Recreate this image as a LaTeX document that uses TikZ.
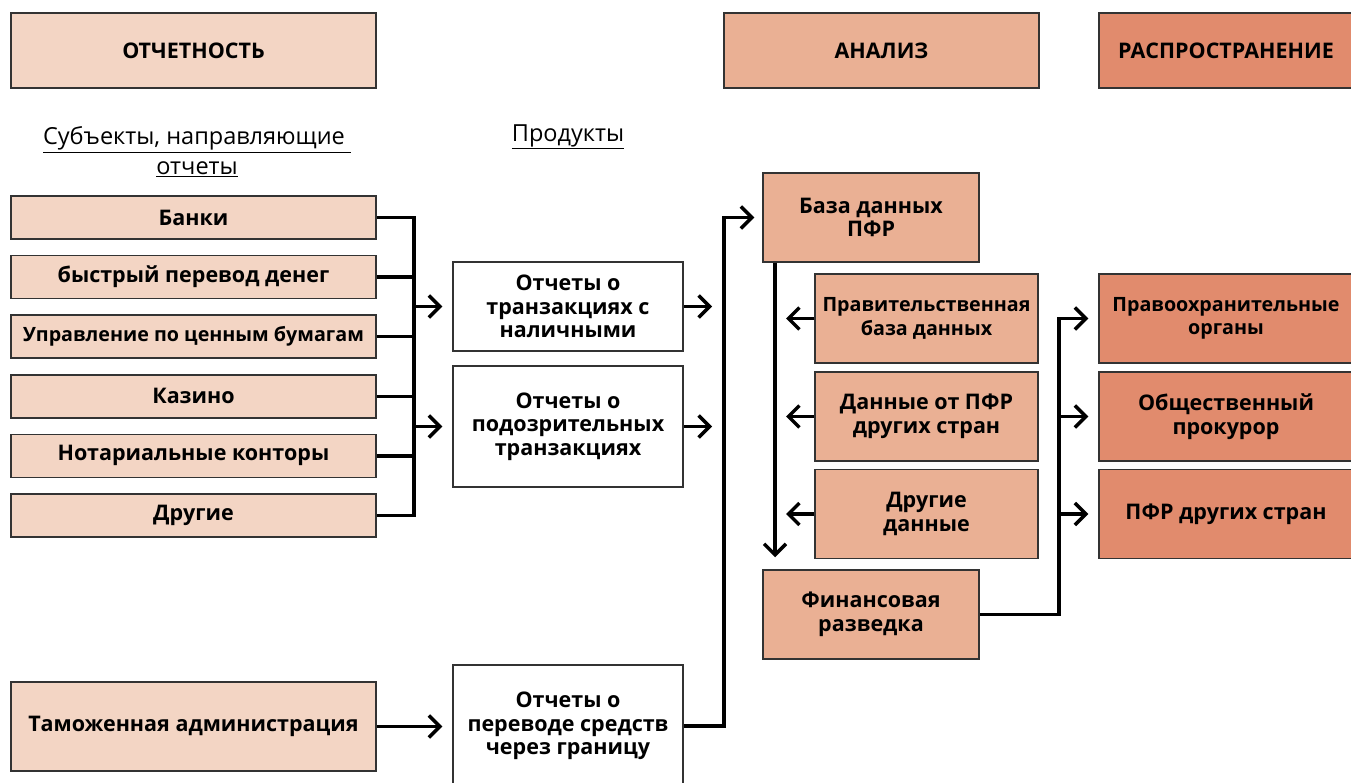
\documentclass[tikz,border=0pt]{standalone}
\usepackage{fontspec}
\setmainfont{Open Sans}
\usetikzlibrary{arrows.meta}
\definecolor{repcol}{HTML}{F3D5C4}
\definecolor{anacol}{HTML}{EAB094}
\definecolor{discol}{HTML}{E18B6D}
\newcommand{\tightfont}{\fontsize{19.7}{23.5}\selectfont}
\tikzset{
  box/.style={draw=black!80,line width=1.5pt,align=center,inner sep=1pt,
    font=\bfseries\fontsize{21.5}{23.5}\selectfont},
  hdr/.style={box,minimum height=75pt},
  src/.style={box,fill=repcol,minimum width=365pt,minimum height=43pt},
  prod/.style={box,fill=white,minimum width=230pt},
  ana/.style={box,fill=anacol,minimum height=89pt},
  dis/.style={box,fill=discol,minimum width=254pt,minimum height=89pt},
  sub/.style={align=center,font=\fontsize{23.5}{30}\selectfont},
  link/.style={line width=3.5pt},
  arr/.style={link,-{Straight Barb[length=11pt,width=22pt]}}
}
\begin{document}
\begin{tikzpicture}[x=1pt,y=-1pt]
\useasboundingbox (0,0) rectangle (1351,783);
% headers
\node[hdr,fill=repcol,minimum width=365pt] (hrep) at (193.5,50.5) {ОТЧЕТНОСТЬ};
\node[hdr,fill=anacol,minimum width=315pt] (hana) at (881.5,50.5) {АНАЛИЗ};
\node[hdr,fill=discol,minimum width=254pt] (hdis) at (1226,50.5) {РАСПРОСТРАНЕНИЕ};
% column titles
\node[sub] (tsrc) at (197,152) {\underline{Субъекты, направляющие\ }\\\underline{отчеты}};
\node[sub] (tprod) at (568,137) {\underline{Продукты}};
% reporting entities
\foreach \t [count=\i from 0] in {Банки,быстрый перевод денег,{\tightfont Управление по ценным бумагам},Казино,Нотариальные конторы,Другие}
  \node[src] (s\i) at (193.5,{217.5+59.6*\i}) {\t};
\node[src,minimum height=89pt] (cust) at (193.5,726.5) {Таможенная администрация};
% products
\node[prod,minimum height=89pt] (p1) at (568,306.5) {Отчеты о\\транзакциях с\\наличными};
\node[prod,minimum height=121pt] (p2) at (568,426.5) {Отчеты о\\подозрительных\\транзакциях};
\node[prod,minimum height=122pt] (p3) at (568,726) {Отчеты о\\переводе средств\\через границу};
% analysis
\node[ana,minimum width=216pt] (db) at (871,217.5) {База данных\\ПФР};
\node[ana,minimum width=223pt] (gov) at (926.5,318.5) {\tightfont Правительственная\\\tightfont база данных};
\node[ana,minimum width=223pt] (frn) at (926.5,416.5) {Данные от ПФР\\других стран};
\node[ana,minimum width=223pt] (oth) at (926.5,514) {Другие\\данные};
\node[ana,minimum width=216pt] (fin) at (871,614.5) {Финансовая\\разведка};
% dissemination
\node[dis] (law) at (1226,318.5) {\tightfont Правоохранительные\\\tightfont органы};
\node[dis] (pros) at (1226,416.5) {Общественный\\прокурор};
\node[dis] (ffiu) at (1226,514) {ПФР других стран};
% connectors
\coordinate (bus) at (414,0);
\coordinate (out) at (712,0);
\coordinate (up) at (724,0);
\coordinate (down) at (775,0);
\coordinate (back) at (786,0);
\coordinate (fan) at (1059,0);
\draw[link] (s0.east) -| (bus |- s5.east) -- (s5.east);
\foreach \i in {1,...,4}
  \draw[link] (s\i.east) -- (bus |- s\i.east);
\draw[arr] (bus |- p1.west) -- ([xshift=-10pt]p1.west);
\draw[arr] (bus |- p2.west) -- ([xshift=-10pt]p2.west);
\draw[arr] (cust.east) -- ([xshift=-10pt]p3.west |- cust.east);
\draw[arr] (p1.east) -- (out |- p1.east);
\draw[arr] (p2.east) -- (out |- p2.east);
\draw[arr] (p3.east) -| (up |- db.west) -- ([xshift=-8pt]db.west);
\draw[arr] (down |- db.south) -- ([yshift=12pt]down |- fin.north);
\foreach \n in {gov,frn,oth}
  \draw[arr] (\n.west) -- (back |- \n.west);
\draw[arr] (fin.east) -| (fan |- law.west) -- ([xshift=-10pt]law.west);
\draw[arr] (fan |- pros.west) -- ([xshift=-10pt]pros.west);
\draw[arr] (fan |- ffiu.west) -- ([xshift=-10pt]ffiu.west);
\end{tikzpicture}
\end{document}
